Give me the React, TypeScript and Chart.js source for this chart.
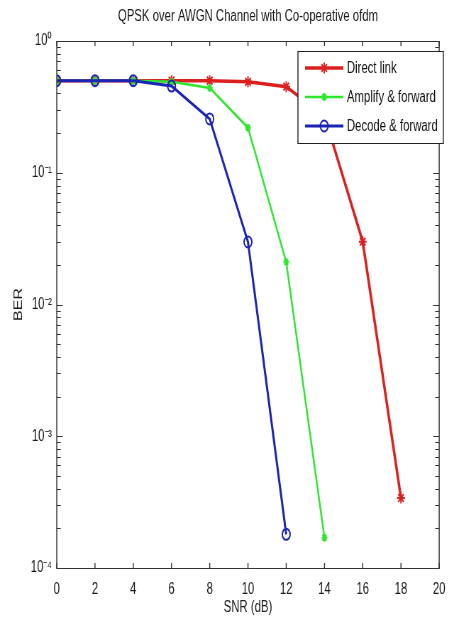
import React, { useEffect, useRef } from 'react';
import { Chart, registerables } from 'chart.js';

Chart.register(...registerables);

// ---- data ----
const snrDirect = [0, 2, 4, 6, 8, 10, 12, 14, 16, 18];
const directLink = [0.5, 0.5, 0.5, 0.5, 0.5, 0.49, 0.45, 0.27, 0.03, 3.4e-4];
const snrAmplify = [0, 2, 4, 6, 8, 10, 12, 14];
const amplifyForward = [0.5, 0.5, 0.5, 0.49, 0.44, 0.22, 0.021, 1.7e-4];
const snrDecode = [0, 2, 4, 6, 8, 10, 12];
const decodeForward = [0.5, 0.5, 0.5, 0.455, 0.256, 0.0298, 1.8e-4];
const seriesLabels = ['Direct link', 'Amplify & forward', 'Decode & forward'];
const xTickValues = [0, 2, 4, 6, 8, 10, 12, 14, 16, 18, 20];
const yTickValues = [1, 0.1, 0.01, 0.001, 0.0001];
const yTickLabels = ['10⁰', '10⁻¹', '10⁻²', '10⁻³', '10⁻⁴'];
const titleText = 'QPSK over AWGN Channel with Co-operative ofdm';
const xTitle = 'SNR (dB)';
const yTitle = 'BER';

// ---- rendering constants ----
const CSS_W = 454;
const CSS_H = 628;
const RENDER_W = 640; // rendered wider, then squeezed horizontally like the reference
const SX = CSS_W / RENDER_W;
const FONT = '"Liberation Sans", Arial, sans-serif';
const AXIS_COLOR = '#333333';
const COLORS = ['#dc1f1f', '#2fe62f', '#1b24b4'];

function drawMarker(ctx: CanvasRenderingContext2D, style: string, x: number, y: number, r: number) {
  ctx.beginPath();
  if (style === 'circle') {
    ctx.arc(x, y, r, 0, Math.PI * 2);
  } else {
    const d = r * Math.SQRT1_2;
    ctx.moveTo(x, y - r); ctx.lineTo(x, y + r);
    ctx.moveTo(x - r, y); ctx.lineTo(x + r, y);
    ctx.moveTo(x - d, y - d); ctx.lineTo(x + d, y + d);
    ctx.moveTo(x - d, y + d); ctx.lineTo(x + d, y - d);
  }
  ctx.stroke();
}

const framePlugin = {
  id: 'matlabFrame',
  afterDatasetsDraw(chart: any) {
    const { ctx, chartArea, scales } = chart;
    const { left, right, top, bottom } = chartArea;
    const xs = scales.x;
    const ys = scales.y;
    ctx.save();
    ctx.strokeStyle = AXIS_COLOR;
    const vW = 1 / SX;
    // box
    ctx.lineWidth = 1;
    ctx.beginPath();
    ctx.moveTo(left, Math.round(top) + 0.5); ctx.lineTo(right, Math.round(top) + 0.5);
    ctx.moveTo(left, Math.round(bottom) + 0.5); ctx.lineTo(right, Math.round(bottom) + 0.5);
    ctx.stroke();
    ctx.lineWidth = vW;
    ctx.beginPath();
    ctx.moveTo(left, top); ctx.lineTo(left, bottom + 1);
    ctx.moveTo(right, top); ctx.lineTo(right, bottom + 1);
    ctx.stroke();
    // x ticks (inside, top and bottom)
    ctx.beginPath();
    xTickValues.forEach((v) => {
      const px = xs.getPixelForValue(v);
      ctx.moveTo(px, bottom); ctx.lineTo(px, bottom - 5);
      ctx.moveTo(px, top); ctx.lineTo(px, top + 5);
    });
    ctx.stroke();
    // y ticks (major + minor, inside, left and right)
    ctx.lineWidth = 1;
    ctx.beginPath();
    for (let e = -4; e < 0; e++) {
      for (let m = 1; m <= 9; m++) {
        const v = m * Math.pow(10, e);
        const py = Math.round(ys.getPixelForValue(v)) + 0.5;
        const L = m === 1 ? 6 / SX : 4 / SX;
        ctx.moveTo(left, py); ctx.lineTo(left + L, py);
        ctx.moveTo(right, py); ctx.lineTo(right - L, py);
      }
    }
    ctx.stroke();

    // legend
    const bx = 420, by = 51, bw = 205, bh = 92;
    ctx.fillStyle = '#ffffff';
    ctx.fillRect(bx, by, bw, bh);
    ctx.strokeStyle = '#222222';
    ctx.lineWidth = 1;
    ctx.beginPath();
    ctx.moveTo(bx, by + 0.5); ctx.lineTo(bx + bw, by + 0.5);
    ctx.moveTo(bx, by + bh + 0.5); ctx.lineTo(bx + bw, by + bh + 0.5);
    ctx.stroke();
    ctx.lineWidth = vW;
    ctx.beginPath();
    ctx.moveTo(bx, by); ctx.lineTo(bx, by + bh + 1);
    ctx.moveTo(bx + bw, by); ctx.lineTo(bx + bw, by + bh + 1);
    ctx.stroke();
    const rows = [68, 97, 126];
    chart.data.datasets.forEach((ds: any, i: number) => {
      const ry = rows[i];
      ctx.strokeStyle = ds.borderColor;
      ctx.lineWidth = ds.borderWidth;
      ctx.beginPath();
      ctx.moveTo(430, ry); ctx.lineTo(484, ry);
      ctx.stroke();
      ctx.lineWidth = ds.pointBorderWidth;
      drawMarker(ctx, ds.pointStyle, 457, ry, ds.pointRadius);
      ctx.fillStyle = '#111111';
      ctx.font = `16px ${FONT}`;
      ctx.textAlign = 'left';
      ctx.textBaseline = 'middle';
      ctx.fillText(ds.label, 489, ry + 1);
    });
    ctx.restore();
  },
};

export default function App() {
  const canvasRef = useRef<HTMLCanvasElement | null>(null);

  useEffect(() => {
    if (!canvasRef.current) return;
    const toXY = (xs: number[], ys: number[]) => ys.map((y, i) => ({ x: xs[i], y }));
    const chart = new Chart(canvasRef.current, {
      type: 'line',
      data: {
        datasets: [
          {
            label: seriesLabels[0],
            data: toXY(snrDirect, directLink),
            borderColor: COLORS[0],
            backgroundColor: COLORS[0],
            borderWidth: 3.5,
            pointStyle: 'star',
            pointRadius: 5.5,
            pointBorderWidth: 2,
            pointBorderColor: COLORS[0],
            order: 3,
          },
          {
            label: seriesLabels[1],
            data: toXY(snrAmplify, amplifyForward),
            borderColor: COLORS[1],
            backgroundColor: COLORS[1],
            borderWidth: 2.5,
            pointStyle: 'star',
            pointRadius: 4,
            pointBorderWidth: 2,
            pointBorderColor: COLORS[1],
            order: 2,
          },
          {
            label: seriesLabels[2],
            data: toXY(snrDecode, decodeForward),
            borderColor: COLORS[2],
            backgroundColor: 'rgba(0,0,0,0)',
            borderWidth: 3,
            pointStyle: 'circle',
            pointRadius: 5.5,
            pointBorderWidth: 2,
            pointBorderColor: COLORS[2],
            pointBackgroundColor: 'rgba(0,0,0,0)',
            order: 1,
          },
        ] as any,
      },
      options: {
        animation: false,
        responsive: false,
        devicePixelRatio: 1,
        layout: { padding: { left: 0, right: 11, top: 0, bottom: 0 } },
        plugins: {
          legend: { display: false },
          tooltip: { enabled: false },
          title: {
            display: true,
            text: titleText,
            fullSize: false,
            color: '#1a1a1a',
            font: { family: FONT, size: 16, weight: 'normal', lineHeight: 1.2 },
            padding: { top: 7.4, bottom: 14.4 },
          },
        },
        scales: {
          x: {
            type: 'linear',
            min: 0,
            max: 20,
            afterFit: (s: any) => { s.height = 60; },
            afterBuildTicks: (s: any) => { s.ticks = xTickValues.map((v) => ({ value: v })); },
            grid: { display: false, drawTicks: false },
            border: { display: false },
            ticks: {
              color: '#1a1a1a',
              padding: 12,
              maxRotation: 0,
              autoSkip: false,
              font: { family: FONT, size: 16, lineHeight: 1.2 },
            },
            title: {
              display: true,
              text: xTitle,
              color: '#1a1a1a',
              font: { family: FONT, size: 16, lineHeight: 1.2 },
              padding: { top: 0, bottom: 10.5 },
            },
          },
          y: {
            type: 'logarithmic',
            min: 1e-4,
            max: 1,
            afterFit: (s: any) => { s.width = 80; },
            afterBuildTicks: (s: any) => { s.ticks = yTickValues.map((v) => ({ value: v })); },
            grid: { display: false, drawTicks: false },
            border: { display: false },
            ticks: {
              color: '#1a1a1a',
              padding: 7,
              autoSkip: false,
              font: { family: FONT, size: 16, lineHeight: 1.2 },
              callback: (v: any) => {
                const i = yTickValues.findIndex((t) => Math.abs(Math.log10(t) - Math.log10(Number(v))) < 1e-6);
                return i >= 0 ? yTickLabels[i] : '';
              },
            },
            title: {
              display: true,
              text: yTitle,
              color: '#1a1a1a',
              font: { family: FONT, size: 16, lineHeight: 1.2 },
              padding: { top: 17, bottom: 0 },
            },
          },
        },
      } as any,
      plugins: [framePlugin],
    });
    return () => chart.destroy();
  }, []);

  return (
    <div style={{ position: 'absolute', left: 0, top: 0, width: CSS_W, height: CSS_H, background: '#fff' }}>
      <canvas
        ref={canvasRef}
        width={RENDER_W}
        height={CSS_H}
        style={{ width: `${CSS_W}px`, height: `${CSS_H}px`, display: 'block' }}
      />
    </div>
  );
}
